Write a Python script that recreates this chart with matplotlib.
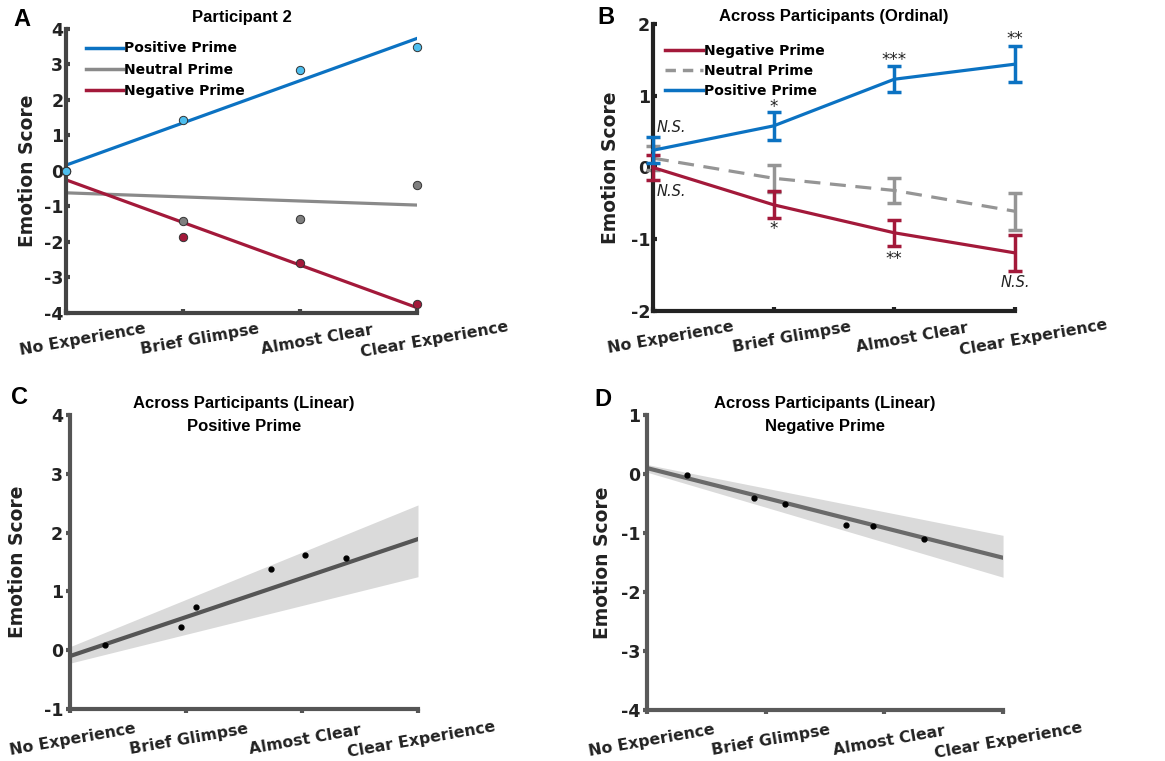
import numpy as np
import matplotlib.pyplot as plt
from matplotlib.transforms import ScaledTranslation

levels = ['No Experience', 'Brief Glimpse', 'Almost Clear', 'Clear Experience']
xpos = np.arange(4)

# A: participant 2, raw scores per level
p2_positive = [0.0, 1.45, 2.85, 3.5]
p2_neutral = [0.0, -1.4, -1.35, -0.4]
p2_negative = [0.0, -1.85, -2.6, -3.75]

# B: across participants, ordinal model (mean, error)
ord_neg = [0.0, -0.52, -0.91, -1.19]
ord_neg_err = [0.18, 0.19, 0.18, 0.25]
ord_neu = [0.13, -0.15, -0.32, -0.61]
ord_neu_err = [0.17, 0.19, 0.18, 0.26]
ord_pos = [0.24, 0.58, 1.23, 1.44]
ord_pos_err = [0.18, 0.19, 0.18, 0.25]

# significance marks in B
sig_x = [0.03, 0.03, 1, 1, 2, 2, 3, 3]
sig_y = [0.56, -0.34, 0.84, -0.86, 1.50, -1.27, 1.79, -1.6]
sig_txt = ['N.S.', 'N.S.', '*', '*', '***', '**', '**', 'N.S.']

# C: linear model, positive prime
linpos_x = [0.30, 0.96, 1.09, 1.73, 2.03, 2.38]
linpos_y = [0.09, 0.40, 0.74, 1.38, 1.62, 1.57]
linpos_fit = [-0.10, 1.89]
linpos_lo = [-0.22, 1.25]
linpos_hi = [0.06, 2.47]

# D: linear model, negative prime
linneg_x = [0.34, 0.90, 1.16, 1.68, 1.90, 2.33]
linneg_y = [-0.02, -0.40, -0.51, -0.86, -0.88, -1.10]
linneg_fit = [0.10, -1.42]
linneg_lo = [0.03, -1.75]
linneg_hi = [0.16, -1.04]
fit_x = [0, 3]

BLUE = '#0b72c2'
RED = '#a3193a'
GRAY = '#8a8a8a'
TITLEFONT = 'Liberation Sans'

fig = plt.figure(figsize=(11.65, 7.61), dpi=100)
axA = fig.add_axes([0.0567, 0.5887, 0.3013, 0.3732])
axB = fig.add_axes([0.5605, 0.5913, 0.3107, 0.3772])
axC = fig.add_axes([0.0601, 0.0683, 0.2987, 0.3864])
axD = fig.add_axes([0.5554, 0.0670, 0.3056, 0.3877])


def style(ax, spcol, ylim, yticks, tickdir, dx, ylabpad):
    for s in ['top', 'right']:
        ax.spines[s].set_visible(False)
    for s in ['left', 'bottom']:
        ax.spines[s].set_linewidth(3)
        ax.spines[s].set_color(spcol)
        ax.spines[s].set_capstyle('projecting')
    ax.set_xlim(0, 3)
    ax.set_ylim(*ylim)
    ax.set_yticks(yticks)
    ax.set_yticklabels([str(v) for v in yticks])
    ax.set_xticks(xpos)
    ax.set_xticklabels(levels)
    ax.tick_params(direction=tickdir, length=3, width=3, color=spcol,
                   labelcolor='#222222')
    ax.tick_params(axis='y', pad=2, labelsize=12.5)
    ax.tick_params(axis='x', pad=19, labelsize=11.3)
    for lab in ax.get_yticklabels():
        lab.set_fontweight('bold')
    off = ScaledTranslation(dx / 100, 0, fig.dpi_scale_trans)
    for lab in ax.get_xticklabels():
        lab.set_fontweight('bold')
        lab.set_rotation(10)
        lab.set_rotation_mode('anchor')
        lab.set_ha('center')
        lab.set_va('center')
        lab.set_transform(lab.get_transform() + off)
    ax.set_ylabel('Emotion Score', fontsize=13.5, fontweight='bold',
                  color='#222222', labelpad=ylabpad)
    ax.set_facecolor('none')


# ---- A ----
for vals, col in [(p2_neutral, GRAY), (p2_negative, RED), (p2_positive, BLUE)]:
    k, b = np.polyfit(xpos, vals, 1)
    axA.plot(fit_x, np.polyval([k, b], fit_x), color=col, lw=2.3, zorder=2)
for vals, dotc in [(p2_neutral, '#7f7f7f'), (p2_negative, RED),
                   (p2_positive, '#4dbeee')]:
    axA.plot(xpos, vals, 'o', ms=6, mfc=dotc, mec='#333333', mew=0.7,
             zorder=3, clip_on=False)
hA = [plt.Line2D([], [], color=BLUE, lw=2.5),
      plt.Line2D([], [], color=GRAY, lw=2.5),
      plt.Line2D([], [], color=RED, lw=2.5)]
axA.legend(hA, ['Positive Prime', 'Neutral Prime', 'Negative Prime'],
           loc='upper left', bbox_to_anchor=(0.02, 1.0), frameon=False,
           handlelength=2.7, handletextpad=0.1, labelspacing=0.52,
           prop={'weight': 'bold', 'size': 10})
style(axA, '#444444', (-4, 4), list(range(-4, 5)), 'in', 17, 5)
axA.set_title('Participant 2', fontsize=12, fontweight='bold',
              family=TITLEFONT, pad=5)

# ---- B ----
axB.errorbar(xpos, ord_neu, yerr=ord_neu_err, color='#959595', lw=2.3,
             ls=(0, (5, 3)), elinewidth=2.5, capsize=5, capthick=2.5,
             zorder=2, clip_on=False)
axB.errorbar(xpos, ord_neg, yerr=ord_neg_err, color=RED, lw=2.3,
             elinewidth=2.5, capsize=5, capthick=2.5, zorder=3, clip_on=False)
axB.errorbar(xpos, ord_pos, yerr=ord_pos_err, color=BLUE, lw=2.3,
             elinewidth=2.5, capsize=5, capthick=2.5, zorder=4, clip_on=False)
for x, y, t in zip(sig_x, sig_y, sig_txt):
    if t == 'N.S.':
        axB.text(x, y, t, fontsize=10.5, style='italic', color='#222222',
                 ha='left' if x < 1 else 'center', va='center')
    else:
        axB.text(x, y, t, fontsize=12, color='#222222', ha='center',
                 va='center')
hB = [plt.Line2D([], [], color=RED, lw=2.5),
      plt.Line2D([], [], color='#959595', lw=2.5, ls=(0, (3, 2))),
      plt.Line2D([], [], color=BLUE, lw=2.5)]
axB.legend(hB, ['Negative Prime', 'Neutral Prime', 'Positive Prime'],
           loc='upper left', bbox_to_anchor=(0.0, 0.975), frameon=False,
           handlelength=2.7, handletextpad=0.1, labelspacing=0.45,
           prop={'weight': 'bold', 'size': 10})
style(axB, '#222222', (-2, 2), [-2, -1, 0, 1, 2], 'in', 18, 8)
axB.set_title('Across Participants (Ordinal)', fontsize=12,
              fontweight='bold', family=TITLEFONT, pad=1)

# ---- C ----
axC.fill_between(fit_x, linpos_lo, linpos_hi, color='#dadada', lw=0, zorder=1)
axC.plot(fit_x, linpos_fit, color='#555555', lw=3, zorder=2)
axC.plot(linpos_x, linpos_y, 'o', ms=3.5, color='black', zorder=3)
style(axC, '#555555', (-1, 4), [-1, 0, 1, 2, 3, 4], 'out', 3, 12)
axC.text(0.5, 1.04, 'Across Participants (Linear)', transform=axC.transAxes,
         ha='center', va='center', fontsize=12, fontweight='bold',
         family=TITLEFONT)
axC.text(0.5, 0.96, 'Positive Prime', transform=axC.transAxes,
         ha='center', va='center', fontsize=12, fontweight='bold',
         family=TITLEFONT)

# ---- D ----
axD.fill_between(fit_x, linneg_lo, linneg_hi, color='#dadada', lw=0, zorder=1)
axD.plot(fit_x, linneg_fit, color='#6a6a6a', lw=3, zorder=2)
axD.plot(linneg_x, linneg_y, 'o', ms=3.5, color='black', zorder=3)
style(axD, '#5a5a5a', (-4, 1), [-4, -3, -2, -1, 0, 1], 'out', 5, 6)
axD.text(0.5, 1.04, 'Across Participants (Linear)', transform=axD.transAxes,
         ha='center', va='center', fontsize=12, fontweight='bold',
         family=TITLEFONT)
axD.text(0.5, 0.96, 'Negative Prime', transform=axD.transAxes,
         ha='center', va='center', fontsize=12, fontweight='bold',
         family=TITLEFONT)

# panel letters
for x, y, t in [(22, 20, 'A'), (606, 18, 'B'), (20, 397, 'C'), (603, 400, 'D')]:
    fig.text(x / 1165, 1 - y / 761, t, fontsize=17, fontweight='bold',
             family=TITLEFONT, ha='center', va='center')

fig.savefig('out.png', dpi=100)
